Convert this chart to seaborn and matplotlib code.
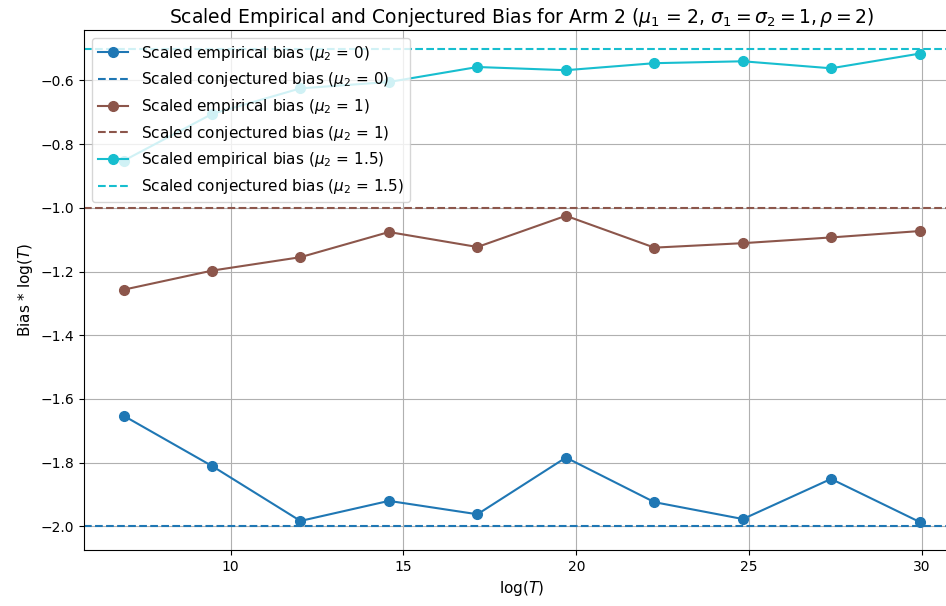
import numpy as np
import seaborn as sns
import matplotlib.pyplot as plt

# log(T) for T on a log grid from 1e3 to 1e13
log_T = [6.91, 9.47, 12.02, 14.58, 17.14, 19.70, 22.26, 24.82, 27.37, 29.93]

mu2_values = [0, 1, 1.5]
conjectured = [-2.0, -1.0, -0.5]

emp_mu0 = [-1.653, -1.811, -1.983, -1.920, -1.962, -1.784, -1.924, -1.977, -1.851, -1.986]
emp_mu1 = [-1.257, -1.197, -1.155, -1.076, -1.123, -1.025, -1.125, -1.111, -1.093, -1.073]
emp_mu15 = [-0.852, -0.705, -0.625, -0.605, -0.558, -0.568, -0.546, -0.540, -0.562, -0.516]
empirical = [emp_mu0, emp_mu1, emp_mu15]

colors = plt.cm.tab10(np.linspace(0, 1, 3))

fig = plt.figure(figsize=(9.46, 6.06), dpi=100)
ax = fig.add_axes([0.0888, 0.0924, 0.9253, 0.8581])

for mu2, emp, conj, c in zip(mu2_values, empirical, conjectured, colors):
    sns.lineplot(x=log_T, y=emp, ax=ax, color=c, marker='o', markersize=7,
                 markeredgecolor=c, markeredgewidth=1, linewidth=1.5,
                 label=rf'Scaled empirical bias ($\mu_2$ = {mu2})')
    ax.axhline(conj, color=c, linestyle='--', linewidth=1.5,
               label=rf'Scaled conjectured bias ($\mu_2$ = {mu2})')

ax.set_title(r'Scaled Empirical and Conjectured Bias for Arm 2 ($\mu_1$ = 2, $\sigma_1 = \sigma_2 = 1, \rho = 2$)',
             fontsize=13.5, pad=5)
ax.set_xlabel(r'log($T$)', fontsize=11)
ax.set_ylabel(r'Bias * log($T$)', fontsize=11)
ax.grid(True)
ax.legend(loc='upper left', fontsize=11)

plt.savefig('out.png', dpi=100)
plt.close()
